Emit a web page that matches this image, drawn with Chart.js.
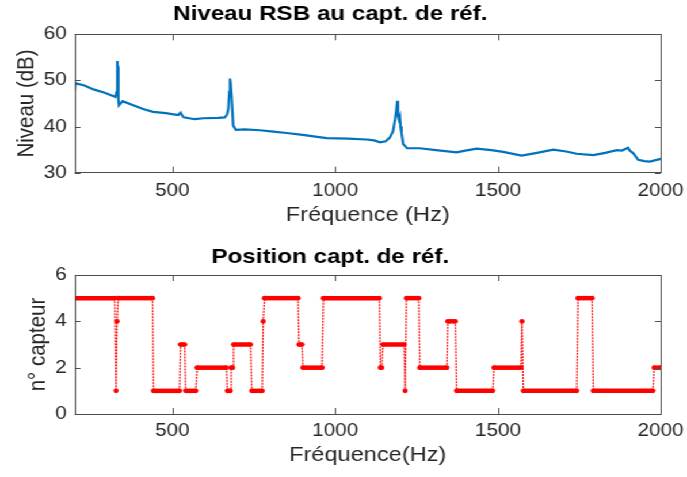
<!DOCTYPE html>
<html>
<head>
<meta charset="utf-8">
<script src="https://cdn.jsdelivr.net/npm/chart.js@4.4.0/dist/chart.umd.min.js"></script>
<style>
html, body { margin:0; padding:0; background:#fff; overflow:hidden; }
#wrap { width:597px; height:477px; transform:scale(1.1508,1); transform-origin:0 0; }
.box { position:relative; width:597px; }
</style>
</head>
<body>
<div id="wrap">
  <div class="box" style="height:238px"><canvas id="top"></canvas></div>
  <div class="box" style="height:239px"><canvas id="bot"></canvas></div>
</div>
<script>
// niveau RSB (dB) au capteur de reference
var levelFreq = [200, 202, 230, 260, 290, 318, 325, 329, 331, 332, 334, 336, 347, 380, 410, 441, 480, 518, 522, 525, 530, 535, 560, 569, 595, 640, 661, 668, 672, 675, 677, 679, 682, 687, 695, 722, 769, 810, 851, 900, 974, 1040, 1097, 1120, 1138, 1155, 1168, 1178, 1184, 1188, 1191, 1193, 1196, 1199, 1201, 1204, 1209, 1221, 1260, 1310, 1373, 1400, 1435, 1480, 1516, 1573, 1620, 1670, 1710, 1742, 1793, 1830, 1865, 1881, 1900, 1905, 1916, 1931, 1950, 1967, 2000];
var levelDb = [47.5, 49.4, 48.9, 48.0, 47.4, 46.6, 46.4, 47.5, 54.2, 53.0, 46.0, 44.6, 45.5, 44.6, 43.8, 43.2, 42.9, 42.5, 42.8, 43.0, 42.4, 42.0, 41.7, 41.6, 41.8, 41.9, 42.0, 42.6, 43.8, 47.5, 50.4, 49.5, 46.5, 40.2, 39.3, 39.4, 39.2, 38.9, 38.6, 38.2, 37.5, 37.4, 37.2, 37.0, 36.6, 36.8, 37.6, 39.0, 41.5, 43.5, 45.6, 42.5, 41.6, 42.2, 40.0, 38.6, 36.2, 35.3, 35.3, 34.9, 34.4, 34.8, 35.2, 34.9, 34.5, 33.7, 34.3, 35.0, 34.6, 34.1, 33.8, 34.3, 34.9, 34.8, 35.4, 34.8, 34.2, 32.8, 32.5, 32.4, 33.0];

// numero du capteur de reference
var posFreq = [200, 323, 327, 330, 334, 439, 442, 522, 525, 538, 541, 572, 576, 666, 669, 678, 681, 685, 688, 740, 744, 776, 779, 783, 886, 889, 898, 901, 960, 964, 1136, 1139, 1143, 1147, 1212, 1215, 1219, 1257, 1260, 1343, 1346, 1369, 1373, 1484, 1488, 1571, 1574, 1578, 1742, 1746, 1789, 1793, 1976, 1980, 2000];
var posVal = [5, 5, 1, 4, 5, 5, 1, 1, 3, 3, 1, 1, 2, 2, 1, 1, 2, 2, 3, 3, 1, 1, 4, 5, 5, 3, 3, 2, 2, 5, 5, 2, 2, 3, 3, 1, 5, 5, 2, 2, 4, 4, 1, 1, 2, 2, 4, 1, 1, 5, 5, 1, 1, 2, 2];

var xTicks = [500, 1000, 1500, 2000];
var yTicksTop = [30, 40, 50, 60];
var yTicksBot = [0, 2, 4, 6];

var FONT = "'Liberation Sans', Arial, Helvetica, sans-serif";
var AXC = '#4d4d4d';

function pts(xs, ys) {
  return xs.map(function(x, i) { return {x: x, y: ys[i]}; });
}

// cadre + graduations vers l'interieur (style matlab)
var boxTicks = {
  id: 'boxTicks',
  afterDraw: function(chart) {
    var c = chart.ctx, a = chart.chartArea, sx = chart.scales.x, sy = chart.scales.y;
    c.save();
    c.strokeStyle = AXC;
    c.lineWidth = 1;
    c.beginPath();
    sx.ticks.forEach(function(t) {
      var px = Math.round(sx.getPixelForValue(t.value)) + 0.5;
      c.moveTo(px, a.bottom); c.lineTo(px, a.bottom - 6);
      c.moveTo(px, a.top); c.lineTo(px, a.top + 6);
    });
    sy.ticks.forEach(function(t) {
      var py = Math.round(sy.getPixelForValue(t.value)) + 0.5;
      c.moveTo(a.left, py); c.lineTo(a.left + 5, py);
      c.moveTo(a.right, py); c.lineTo(a.right - 5, py);
    });
    c.stroke();
    c.strokeRect(Math.round(a.left) + 0.5, Math.round(a.top) + 0.5, Math.round(a.right - a.left), Math.round(a.bottom - a.top));
    c.restore();
  }
};

function plain(v) { return String(v); }

function makeOpts(cfg) {
  return {
    responsive: true,
    maintainAspectRatio: false,
    animation: false,
    layout: { padding: { left: 0, right: 22.9, top: 0, bottom: 0 } },
    plugins: {
      legend: { display: false },
      tooltip: { enabled: false },
      title: {
        display: true,
        text: cfg.title,
        color: '#000',
        font: { family: FONT, size: 21, weight: 'bold' },
        padding: cfg.titlePad
      }
    },
    scales: {
      x: {
        type: 'linear',
        min: 200, max: 2000,
        afterBuildTicks: function(s) { s.ticks = xTicks.map(function(v) { return {value: v}; }); },
        afterFit: function(s) { s.height = cfg.xHeight; s.paddingLeft = 0; s.paddingRight = 0; },
        grid: { display: false, drawTicks: false },
        border: { display: false },
        ticks: { color: '#262626', font: { family: FONT, size: 18 }, padding: cfg.xTickPad, maxRotation: 0, callback: plain },
        title: { display: true, text: cfg.xTitle, color: '#262626', font: { family: FONT, size: 20.5 }, padding: { top: 0, bottom: cfg.xTitlePad } }
      },
      y: {
        min: cfg.yMin, max: cfg.yMax,
        afterBuildTicks: function(s) { s.ticks = cfg.yTicks.map(function(v) { return {value: v}; }); },
        afterFit: function(s) { s.width = 64.9; },
        grid: { display: false, drawTicks: false },
        border: { display: false },
        ticks: { color: '#262626', font: { family: FONT, size: 18 }, padding: 6.8, callback: plain },
        title: { display: true, text: cfg.yTitle, color: '#262626', font: { family: FONT, size: 20.5 }, padding: { top: cfg.yTitlePad, bottom: 0 } }
      }
    }
  };
}

new Chart(document.getElementById('top'), {
  type: 'line',
  data: {
    datasets: [{
      data: pts(levelFreq, levelDb),
      borderColor: '#0072BD',
      borderWidth: 2.2,
      pointRadius: 0,
      tension: 0
    }]
  },
  options: makeOpts({
    title: 'Niveau RSB au capt. de réf.',
    titlePad: { top: 1.4, bottom: 7.7 },
    xHeight: 65.3, xTickPad: 7.5, xTitle: 'Fréquence (Hz)', xTitlePad: 10.7,
    yMin: 30, yMax: 60, yTicks: yTicksTop, yTitle: 'Niveau (dB)', yTitlePad: 11.2
  }),
  plugins: [boxTicks]
});

new Chart(document.getElementById('bot'), {
  type: 'line',
  data: {
    datasets: [{
      data: pts(posFreq, posVal),
      borderColor: '#ff0000',
      backgroundColor: '#ff0000',
      borderWidth: 1.2,
      pointRadius: 2.3,
      pointBorderWidth: 0,
      tension: 0,
      segment: {
        borderWidth: function(ctx) { return ctx.p0.parsed.y === ctx.p1.parsed.y ? 4.5 : 1.2; },
        borderDash: function(ctx) { return ctx.p0.parsed.y === ctx.p1.parsed.y ? [] : [2, 1]; }
      }
    }]
  },
  options: makeOpts({
    title: 'Position capt. de réf.',
    titlePad: { top: 6.9, bottom: 4.9 },
    xHeight: 63, xTickPad: 6.2, xTitle: 'Fréquence(Hz)', xTitlePad: 9.7,
    yMin: 0, yMax: 6, yTicks: yTicksBot, yTitle: 'n° capteur', yTitlePad: 20.7
  }),
  plugins: [boxTicks]
});
</script>
</body>
</html>
